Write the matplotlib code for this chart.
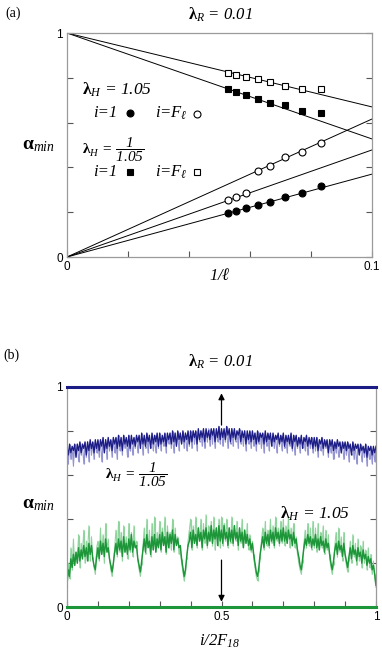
import numpy as np
import matplotlib
matplotlib.use("Agg")
import matplotlib.pyplot as plt

plt.rcParams['font.family'] = ['Liberation Serif', 'DejaVu Serif']
plt.rcParams['mathtext.fontset'] = 'custom'
plt.rcParams['mathtext.rm'] = 'Liberation Serif:italic'
plt.rcParams['mathtext.it'] = 'Liberation Serif:italic'
plt.rcParams['mathtext.bf'] = 'Liberation Serif:bold'

# ---------------- panel (a) data ----------------
ell = [19, 18, 17, 16, 15, 14, 13, 12]
circ_filled = [0.198, 0.207, 0.220, 0.232, 0.247, 0.267, 0.285, 0.317]
circ_open = [0.254, 0.267, 0.284, 0.384, 0.408, 0.445, 0.470, 0.510]
sq_filled = [0.749, 0.735, 0.723, 0.705, 0.686, 0.679, 0.652, 0.644]
sq_open = [0.823, 0.8125, 0.805, 0.795, 0.783, 0.765, 0.749, 0.749]
fit_x = [0.0, 0.1]
fit_start = [1.0, 1.0, 0.0, 0.0, 0.0]
fit_end = [0.67, 0.527, 0.616, 0.478, 0.37]

# ---------------- panel (b) data ----------------
blue_dark = [
    .73,.69,.74,.70,.73,.71,.74,.68,.74,.71,.75,.70,.74,.72,.75,.69,.75,.71,.76,.72,.75,.70,.76,.72,
    .76,.71,.76,.73,.77,.70,.76,.72,.77,.73,.76,.71,.77,.74,.77,.72,.78,.73,.77,.71,.78,.74,.77,.73,
    .78,.72,.78,.74,.77,.73,.78,.75,.78,.72,.79,.74,.78,.73,.79,.75,.78,.72,.79,.74,.78,.75,.79,.73,
    .79,.74,.78,.75,.79,.73,.79,.76,.79,.74,.80,.75,.79,.73,.80,.76,.79,.74,.80,.75,.79,.76,.80,.74,
    .80,.75,.80,.77,.80,.74,.81,.76,.80,.77,.81,.75,.81,.77,.80,.76,.81,.78,.81,.75,.81,.77,.82,.76,
    .81,.77,.81,.76,.82,.78,.81,.75,.81,.77,.81,.76,.80,.78,.81,.75,.80,.77,.80,.74,.80,.76,.80,.75,
    .80,.76,.79,.74,.80,.75,.79,.77,.79,.74,.80,.75,.79,.76,.79,.73,.79,.75,.78,.76,.79,.74,.78,.75,
    .79,.73,.78,.75,.78,.74,.79,.72,.78,.75,.78,.73,.77,.74,.78,.72,.77,.75,.78,.73,.77,.74,.77,.72,
    .77,.73,.77,.71,.76,.74,.77,.72,.76,.73,.76,.70,.76,.73,.76,.71,.75,.72,.76,.73,.75,.70,.75,.72,
    .75,.71,.75,.72,.74,.69,.75,.71,.74,.72,.74,.69,.74,.71,.73,.70,.74,.68,.73,.71,.73,.69,.73,.70,
    .73]
blue_light = [
    .72,.65,.73,.67,.72,.64,.73,.68,.74,.66,.73,.69,.74,.65,.74,.68,.75,.66,.75,.69,.74,.67,.75,.70,
    .75,.68,.76,.66,.75,.70,.76,.67,.76,.71,.75,.68,.77,.70,.76,.67,.77,.71,.76,.69,.77,.72,.76,.68,
    .77,.71,.77,.69,.76,.72,.78,.70,.77,.73,.78,.69,.77,.72,.78,.70,.77,.73,.78,.71,.77,.70,.78,.72,
    .78,.71,.77,.73,.78,.70,.78,.74,.79,.72,.78,.70,.79,.73,.78,.71,.79,.74,.78,.72,.79,.71,.79,.73,
    .79,.72,.80,.74,.79,.71,.80,.75,.80,.73,.79,.72,.80,.75,.81,.73,.80,.74,.81,.72,.80,.75,.81,.74,
    .81,.73,.80,.75,.81,.72,.80,.74,.81,.73,.80,.75,.80,.72,.80,.74,.79,.73,.80,.71,.79,.74,.79,.72,
    .79,.73,.79,.71,.78,.74,.79,.72,.78,.70,.79,.73,.78,.71,.78,.74,.78,.72,.77,.70,.78,.73,.77,.71,
    .78,.72,.77,.70,.77,.73,.78,.71,.77,.69,.77,.72,.76,.70,.77,.73,.76,.71,.77,.69,.76,.72,.76,.70,
    .76,.71,.76,.68,.75,.71,.76,.69,.75,.72,.75,.68,.75,.70,.75,.67,.74,.70,.75,.68,.74,.71,.74,.67,
    .74,.69,.74,.66,.73,.70,.74,.67,.73,.65,.73,.69,.73,.66,.72,.68,.73,.64,.72,.67,.73,.65,.72,.66,
    .73]
green_dark = [
    .10,.17,.14,.22,.18,.24,.19,.25,.20,.27,.21,.26,.22,.28,.23,.27,.21,.29,.24,.28,.22,.19,.17,.23,
    .27,.22,.30,.24,.29,.23,.31,.25,.27,.22,.19,.16,.20,.25,.29,.24,.31,.26,.30,.23,.32,.25,.29,.24,
    .31,.26,.33,.25,.30,.27,.28,.22,.19,.16,.21,.26,.31,.25,.33,.27,.30,.24,.32,.26,.33,.25,.31,.27,
    .33,.26,.34,.28,.32,.25,.34,.27,.33,.29,.35,.26,.33,.28,.31,.27,.28,.22,.18,.14,.17,.23,.28,.30,
    .34,.27,.35,.29,.33,.28,.36,.30,.34,.27,.35,.31,.36,.28,.34,.30,.37,.29,.35,.31,.36,.28,.37,.30,
    .35,.29,.37,.31,.34,.28,.36,.30,.35,.29,.37,.31,.34,.28,.36,.30,.34,.27,.35,.29,.33,.28,.31,.26,
    .29,.24,.20,.16,.14,.18,.24,.28,.32,.27,.34,.29,.33,.28,.35,.30,.34,.28,.36,.31,.34,.29,.35,.30,
    .36,.30,.34,.29,.35,.31,.33,.28,.34,.29,.31,.26,.23,.19,.17,.22,.27,.31,.28,.33,.29,.32,.27,.31,
    .28,.33,.27,.31,.26,.32,.28,.30,.25,.31,.27,.29,.24,.20,.17,.21,.26,.29,.24,.30,.26,.28,.23,.29,
    .24,.21,.18,.23,.27,.22,.28,.24,.26,.21,.27,.23,.25,.20,.26,.22,.24,.19,.23,.20,.22,.17,.19,.15,
    .10]
green_light = [
    .09,.20,.13,.27,.17,.31,.19,.25,.22,.33,.18,.29,.24,.35,.20,.30,.26,.37,.21,.32,.23,.18,.15,.27,
    .30,.21,.36,.24,.33,.20,.38,.26,.31,.22,.17,.14,.19,.27,.35,.23,.39,.25,.34,.21,.37,.27,.32,.22,
    .38,.25,.34,.23,.37,.28,.30,.21,.17,.14,.19,.28,.36,.24,.40,.27,.35,.23,.38,.26,.41,.25,.34,.27,
    .39,.25,.36,.28,.41,.24,.37,.29,.34,.26,.40,.25,.36,.28,.32,.24,.26,.20,.16,.12,.15,.22,.30,.35,
    .40,.26,.37,.29,.41,.27,.36,.30,.40,.26,.38,.29,.42,.27,.37,.30,.39,.28,.41,.26,.36,.30,.40,.27,
    .41,.28,.38,.30,.40,.27,.36,.29,.41,.28,.37,.30,.39,.26,.36,.29,.40,.27,.35,.29,.38,.26,.33,.25,
    .30,.22,.18,.14,.12,.16,.22,.30,.36,.26,.39,.28,.35,.27,.40,.29,.37,.27,.41,.30,.36,.28,.39,.29,
    .40,.28,.37,.30,.41,.27,.36,.29,.38,.27,.32,.24,.20,.17,.15,.20,.29,.35,.27,.38,.28,.36,.26,.39,
    .27,.36,.25,.38,.26,.34,.27,.37,.24,.35,.26,.33,.22,.18,.15,.19,.28,.34,.23,.36,.25,.32,.21,.34,
    .23,.19,.16,.21,.30,.20,.33,.23,.29,.19,.31,.21,.28,.18,.30,.20,.26,.17,.27,.18,.24,.15,.21,.13,
    .09]
upper_level = 1.0
lower_level = 0.0
arrow_x = 0.5
arrow_up = (0.826, 0.97)
arrow_down = (0.214, 0.025)

FRAME = '#9a9a9a'
NAVY = '#1c1c86'
NAVY_L = '#9494d4'
GREEN = '#1c9638'
GREEN_L = '#8fd39d'

fig = plt.figure(figsize=(3.82, 6.54), dpi=100)


def style_axes(ax):
    for s in ax.spines.values():
        s.set_color(FRAME)
        s.set_linewidth(0.9)
    ax.tick_params(direction='in', length=4, width=0.8, color='#555555',
                   top=False, right=True, labelsize=8.5, pad=3)
    for lab in ax.get_xticklabels() + ax.get_yticklabels():
        lab.set_family(['Liberation Sans', 'DejaVu Sans'])


LAM = r'$\mathbf{\lambda}'
ALPHA = r'$\mathbf{\alpha}'
TXT = dict(style='italic')

# ---------------- (a) ----------------
axa = fig.add_axes([67/382, 1-257/654, 305/382, 224/654])
inv = 1.0 / np.array(ell)
for y0, y1 in zip(fit_start, fit_end):
    axa.plot(fit_x, [y0, y1], color='black', lw=0.7)
ms = 5
axa.plot(inv, circ_filled, 'o', ms=ms, mfc='black', mec='black', mew=0.8)
axa.plot(inv, circ_open, 'o', ms=ms, mfc='white', mec='black', mew=0.8)
axa.plot(inv, sq_filled, 's', ms=ms, mfc='black', mec='black', mew=0.8)
axa.plot(inv, sq_open, 's', ms=ms, mfc='white', mec='black', mew=0.8)
axa.set_xlim(0, 0.1)
axa.set_ylim(0, 1)
axa.set_xticks([0, 0.02, 0.04, 0.06, 0.08, 0.1])
axa.set_xticklabels(['0', '', '', '', '', '0.1'])
axa.set_yticks([0, 0.2, 0.4, 0.6, 0.8, 1.0])
axa.set_yticklabels(['0', '', '', '', '', '1'])
style_axes(axa)

fig.text(5/382, 1-13/654, '(a)', fontsize=10, va='center', ha='left')
fig.text(220/382, 1-15/654, LAM + r'_{R}$ = 0.01',
         fontsize=12, ha='center', va='center', **TXT)
fig.text(220/382, 1-276/654, r'$1/\ell$', fontsize=12, ha='center', va='center')
fig.text(38/382, 1-145/654, ALPHA + r'_{min}$', fontsize=14,
         ha='center', va='center')


def ax_frac(px, py, ax_left=67, ax_top=33, w=305, h=224):
    return (px - ax_left) / w, 1 - (py - ax_top) / h


tx, ty = ax_frac(82, 90)
axa.text(tx, ty, LAM + r'_{H}$ = 1.05', transform=axa.transAxes,
         fontsize=12.5, va='center', ha='left', **TXT)
tx, ty = ax_frac(93, 113)
axa.text(tx, ty, 'i=1', transform=axa.transAxes, fontsize=12, va='center', ha='left', **TXT)
tx, ty = ax_frac(155, 113)
axa.text(tx, ty, r'i=$F_{\ell}$', transform=axa.transAxes, fontsize=12, va='center', ha='left', **TXT)
tx, ty = ax_frac(82, 150)
axa.text(tx, ty, LAM + r'_{H}$ = $\dfrac{1}{1.05}$', transform=axa.transAxes,
         fontsize=11, va='center', ha='left', **TXT)
tx, ty = ax_frac(93, 172)
axa.text(tx, ty, 'i=1', transform=axa.transAxes, fontsize=12, va='center', ha='left', **TXT)
tx, ty = ax_frac(155, 172)
axa.text(tx, ty, r'i=$F_{\ell}$', transform=axa.transAxes, fontsize=12, va='center', ha='left', **TXT)
for (px, py, mk, fc) in [(130, 113, 'o', 'black'), (197, 114, 'o', 'white'),
                          (130, 172, 's', 'black'), (197, 172, 's', 'white')]:
    mx, my = ax_frac(px, py)
    axa.plot([mx], [my], mk, ms=5, mfc=fc, mec='black', mew=0.8,
             transform=axa.transAxes, clip_on=False)

# ---------------- (b) ----------------
axb = fig.add_axes([67/382, 1-607.3/654, 309/382, 220.6/654])


def noisy_band(ax, light, dark, c_light, c_dark, lw_dark):
    n = min(len(light), len(dark))
    x = np.linspace(0, 1, n)
    ax.vlines(x, light[:n], dark[:n], color=c_light, lw=0.8)
    ax.plot(np.linspace(0, 1, len(light)), light, color=c_light, lw=0.7)
    ax.plot(np.linspace(0, 1, len(dark)), dark, color=c_dark, lw=lw_dark)


noisy_band(axb, blue_light, blue_dark, NAVY_L, NAVY, 0.9)
noisy_band(axb, green_light, green_dark, GREEN_L, GREEN, 1.05)
axb.plot([0, 1], [upper_level, upper_level], color=NAVY, lw=2.2, clip_on=False, zorder=5)
axb.plot([0, 1], [lower_level, lower_level], color=GREEN, lw=2.2, clip_on=False, zorder=5)
axb.annotate('', xy=(arrow_x, arrow_up[1]), xytext=(arrow_x, arrow_up[0]),
             arrowprops=dict(arrowstyle='-|>', color='black', lw=0.9,
                             mutation_scale=9, shrinkA=0, shrinkB=0))
axb.annotate('', xy=(arrow_x, arrow_down[1]), xytext=(arrow_x, arrow_down[0]),
             arrowprops=dict(arrowstyle='-|>', color='black', lw=0.9,
                             mutation_scale=9, shrinkA=0, shrinkB=0))
axb.set_xlim(0, 1)
axb.set_ylim(0, 1)
axb.set_xticks(np.arange(0, 1.01, 0.1))
axb.set_xticklabels(['0', '', '', '', '', '0.5', '', '', '', '', '1'])
axb.set_yticks([0, 0.2, 0.4, 0.6, 0.8, 1.0])
axb.set_yticklabels(['0', '', '', '', '', '1'])
style_axes(axb)

fig.text(3/382, 1-355/654, '(b)', fontsize=10, va='center', ha='left')
fig.text(220/382, 1-362/654, LAM + r'_{R}$ = 0.01',
         fontsize=12, ha='center', va='center', **TXT)
fig.text(220/382, 1-641/654, r'$i/2F_{18}$', fontsize=12, ha='center', va='center')
fig.text(38/382, 1-504/654, ALPHA + r'_{min}$', fontsize=14,
         ha='center', va='center')


def bx_frac(px, py):
    return (px - 67) / 309, 1 - (py - 386.7) / 220.6


tx, ty = bx_frac(105, 475)
axb.text(tx, ty, LAM + r'_{H}$ = $\dfrac{1}{1.05}$', transform=axb.transAxes,
         fontsize=11, va='center', ha='left', **TXT)
tx, ty = bx_frac(280, 514)
axb.text(tx, ty, LAM + r'_{H}$ = 1.05', transform=axb.transAxes,
         fontsize=12.5, va='center', ha='left', **TXT)

fig.savefig('out.png', dpi=100)
